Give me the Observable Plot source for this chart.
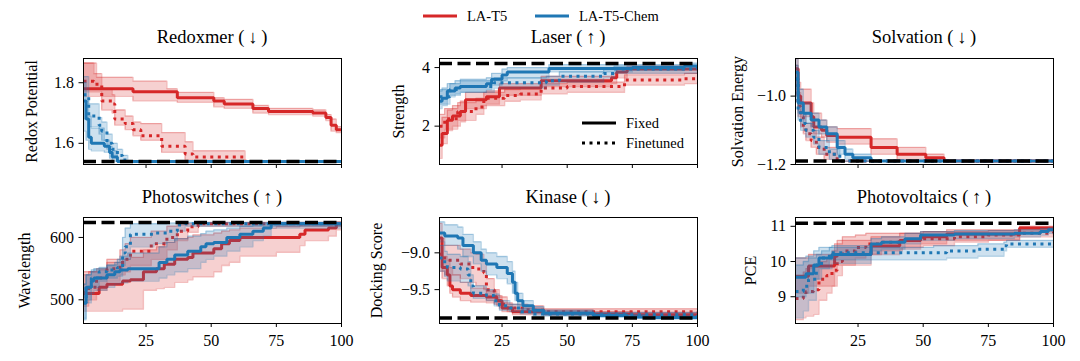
<!DOCTYPE html>
<html><head><meta charset="utf-8">
<script src="https://cdn.jsdelivr.net/npm/d3@7"></script>
<script src="https://cdn.jsdelivr.net/npm/@observablehq/plot@0.6"></script>
<style>
body{margin:0;background:#fff;}
#fig{position:relative;width:1080px;height:361px;overflow:hidden;background:#fff;font-family:"Liberation Serif","Times New Roman",serif;color:#000;}
.title{position:absolute;font-size:18.5px;line-height:1;transform:translateX(-50%);white-space:nowrap;}
.leg{position:absolute;font-size:14.5px;line-height:1;white-space:nowrap;display:flex;align-items:center;}
.leg svg{margin-right:10px;}
</style></head>
<body><div id="fig"></div>
<script>
// ---- data: rows are [x, mean, lower, upper] (step-after) ----
const models = ["LA-T5", "LA-T5-Chem"];
const colors = ["#d62728", "#1f77b4"];
const xTicks = [25, 50, 75, 100];

// Redoxmer
const redoxT5Fixed = [[1,1.78,1.755,1.865],[6,1.78,1.755,1.818],[20,1.77,1.74,1.805],[33,1.77,1.74,1.78],[37,1.75,1.735,1.768],[51,1.74,1.72,1.75],[55,1.73,1.715,1.745],[66,1.715,1.70,1.725],[72,1.705,1.695,1.715],[89,1.70,1.69,1.71],[94,1.685,1.675,1.695],[96,1.66,1.64,1.68],[98,1.645,1.635,1.655],[100,1.645,1.635,1.655]];
const redoxT5Fine = [[1,1.805,1.77,1.865],[5,1.795,1.77,1.83],[8,1.74,1.71,1.78],[12,1.73,1.70,1.76],[13,1.68,1.66,1.71],[17,1.665,1.645,1.69],[20,1.645,1.625,1.67],[23,1.625,1.61,1.665],[31,1.59,1.57,1.635],[40,1.565,1.545,1.605],[43,1.555,1.54,1.575],[63,1.54,1.54,1.54],[100,1.54,1.54,1.54]];
const redoxChemFixed = [[1,1.74,1.64,1.80],[2,1.68,1.61,1.74],[3,1.62,1.58,1.69],[4,1.60,1.575,1.65],[9,1.59,1.57,1.61],[11,1.57,1.55,1.59],[12,1.555,1.54,1.575],[14,1.54,1.54,1.54],[100,1.54,1.54,1.54]];
const redoxChemFine = [[1,1.76,1.68,1.82],[3,1.69,1.655,1.73],[7,1.66,1.63,1.685],[8,1.64,1.61,1.67],[10,1.60,1.58,1.63],[12,1.58,1.56,1.60],[14,1.56,1.545,1.58],[16,1.545,1.54,1.56],[18,1.54,1.54,1.54],[100,1.54,1.54,1.54]];

// Laser
const laserT5Fixed = [[1,1.35,0.9,2.0],[2,1.75,1.4,2.3],[4,2.2,1.85,2.55],[6,2.35,2.0,2.7],[9,2.5,2.15,2.85],[11,2.9,2.6,3.15],[19,3.0,2.75,3.2],[24,3.3,3.05,3.45],[40,3.55,3.35,3.7],[67,3.65,3.45,3.8],[69,3.85,3.65,3.95],[73,3.95,3.8,4.05],[100,3.97,3.85,4.05]];
const laserT5Fine = [[1,2.0,1.6,2.4],[3,2.25,1.9,2.6],[8,2.5,2.2,2.8],[15,2.65,2.4,2.95],[18,2.95,2.7,3.15],[26,3.05,2.85,3.25],[32,3.1,2.9,3.3],[40,3.3,3.1,3.45],[50,3.35,3.15,3.5],[72,3.58,3.4,3.75],[95,3.62,3.45,3.8],[100,3.67,3.5,3.85]];
const laserChemFixed = [[1,2.85,2.6,3.2],[2,2.95,2.7,3.3],[4,3.2,3.0,3.45],[7,3.3,3.1,3.55],[9,3.35,3.15,3.6],[19,3.45,3.25,3.65],[21,3.6,3.4,3.8],[25,3.75,3.55,3.95],[27,3.85,3.65,4.0],[43,3.97,3.85,4.1],[75,4.0,3.9,4.1],[95,4.05,3.95,4.15],[100,4.08,3.98,4.15]];
const laserChemFine = [[1,3.0,2.75,3.25],[5,3.25,3.05,3.45],[9,3.35,3.15,3.55],[22,3.48,3.3,3.65],[42,3.55,3.4,3.7],[47,3.7,3.5,3.85],[64,3.8,3.65,3.95],[68,3.95,3.8,4.05],[100,4.02,3.9,4.1]];

// Solvation
const solvT5Fixed = [[1,-0.92,-0.97,-0.89],[2,-1.0,-1.04,-0.96],[3,-1.02,-1.06,-0.98],[7,-1.06,-1.09,-1.02],[8,-1.09,-1.11,-1.05],[11,-1.10,-1.12,-1.07],[13,-1.115,-1.135,-1.09],[17,-1.12,-1.14,-1.095],[30,-1.15,-1.17,-1.125],[40,-1.17,-1.185,-1.15],[51,-1.18,-1.19,-1.17],[58,-1.19,-1.19,-1.19],[100,-1.19,-1.19,-1.19]];
const solvT5Fine = [[1,-0.95,-1.0,-0.91],[2,-1.03,-1.06,-0.99],[3,-1.06,-1.09,-1.02],[4,-1.09,-1.11,-1.05],[5,-1.11,-1.13,-1.08],[7,-1.13,-1.15,-1.10],[9,-1.15,-1.17,-1.12],[12,-1.17,-1.185,-1.15],[17,-1.19,-1.19,-1.19],[100,-1.19,-1.19,-1.19]];
const solvChemFixed = [[1,-0.93,-0.98,-0.89],[2,-1.02,-1.05,-0.98],[4,-1.05,-1.08,-1.02],[7,-1.07,-1.09,-1.05],[10,-1.09,-1.11,-1.07],[13,-1.11,-1.13,-1.09],[17,-1.15,-1.17,-1.13],[20,-1.17,-1.185,-1.155],[23,-1.18,-1.19,-1.17],[30,-1.19,-1.19,-1.19],[100,-1.19,-1.19,-1.19]];
const solvChemFine = [[1,-0.95,-1.0,-0.91],[2,-1.04,-1.07,-1.01],[3,-1.08,-1.10,-1.05],[5,-1.10,-1.12,-1.08],[8,-1.12,-1.14,-1.10],[10,-1.15,-1.17,-1.13],[14,-1.17,-1.185,-1.155],[18,-1.19,-1.19,-1.19],[100,-1.19,-1.19,-1.19]];

// Photoswitches
const photoT5Fixed = [[1,510,482,545],[7,520,482,548],[10,525,482,560],[16,530,485,565],[19,532,485,568],[24,545,515,580],[29,550,518,585],[32,557,520,592],[36,565,528,598],[41,568,532,600],[43,575,537,604],[51,582,545,607],[54,590,555,610],[57,595,560,612],[61,600,570,615],[75,600,576,617],[84,605,587,620],[86,612,595,622],[95,615,602,624],[98,622,612,625],[100,622,612,625]];
const photoT5Fine = [[1,512,490,540],[3,520,500,545],[6,535,515,550],[10,550,530,565],[15,560,540,580],[17,565,545,590],[19,578,555,600],[27,590,565,610],[33,600,580,618],[37,610,595,620],[41,617,608,622],[45,622,618,624],[100,622,620,624]];
const photoChemFixed = [[1,495,470,525],[2,520,495,540],[4,530,510,545],[5,535,515,550],[10,540,520,555],[13,545,525,560],[15,548,527,570],[18,550,530,575],[30,560,535,585],[33,565,540,592],[36,572,545,598],[41,578,550,602],[46,585,560,606],[48,590,565,610],[51,592,570,612],[56,600,578,615],[61,605,585,618],[66,610,595,620],[70,615,603,622],[73,622,615,624],[100,622,620,624]];
const photoChemFine = [[1,495,468,525],[2,520,500,540],[4,535,520,548],[7,545,530,552],[10,548,535,556],[14,552,538,565],[16,575,555,600],[17,585,565,615],[19,605,585,622],[28,607,590,622],[33,610,595,623],[37,620,610,624],[40,622,618,624],[100,622,620,624]];

// Kinase
const kinT5Fixed = [[1,-8.8,-9.0,-8.6],[2,-9.2,-9.35,-9.05],[4,-9.3,-9.45,-9.1],[5,-9.45,-9.55,-9.2],[6,-9.5,-9.6,-9.3],[9,-9.55,-9.65,-9.4],[13,-9.58,-9.67,-9.48],[19,-9.6,-9.68,-9.52],[23,-9.65,-9.72,-9.58],[25,-9.75,-9.8,-9.68],[29,-9.8,-9.84,-9.75],[41,-9.82,-9.85,-9.78],[60,-9.83,-9.86,-9.8],[75,-9.84,-9.87,-9.81],[100,-9.85,-9.88,-9.82]];
const kinT5Fine = [[1,-9.02,-9.25,-8.8],[3,-9.1,-9.3,-8.9],[9,-9.15,-9.35,-8.95],[13,-9.2,-9.4,-9.0],[15,-9.22,-9.45,-9.02],[18,-9.27,-9.5,-9.1],[19,-9.5,-9.65,-9.35],[22,-9.6,-9.7,-9.5],[24,-9.7,-9.76,-9.6],[27,-9.75,-9.8,-9.7],[35,-9.78,-9.82,-9.72],[41,-9.8,-9.83,-9.76],[100,-9.81,-9.84,-9.77]];
const kinChemFixed = [[1,-8.73,-8.85,-8.58],[3,-8.77,-8.9,-8.62],[8,-8.8,-8.95,-8.65],[10,-8.9,-9.05,-8.75],[14,-9.0,-9.15,-8.85],[17,-9.1,-9.25,-8.95],[19,-9.15,-9.3,-9.0],[23,-9.2,-9.35,-9.05],[27,-9.28,-9.42,-9.12],[29,-9.4,-9.55,-9.25],[30,-9.55,-9.65,-9.4],[31,-9.65,-9.72,-9.55],[33,-9.72,-9.78,-9.65],[37,-9.78,-9.82,-9.73],[41,-9.82,-9.85,-9.78],[60,-9.85,-9.87,-9.82],[73,-9.87,-9.89,-9.84],[80,-9.88,-9.9,-9.86],[100,-9.88,-9.9,-9.86]];
const kinChemFine = [[1,-9.07,-9.25,-8.9],[3,-9.15,-9.32,-8.98],[4,-9.2,-9.38,-9.02],[9,-9.22,-9.4,-9.05],[12,-9.3,-9.45,-9.12],[13,-9.45,-9.55,-9.3],[14,-9.55,-9.62,-9.45],[19,-9.58,-9.65,-9.5],[22,-9.65,-9.72,-9.56],[24,-9.72,-9.78,-9.65],[28,-9.75,-9.8,-9.7],[32,-9.8,-9.83,-9.76],[37,-9.83,-9.86,-9.8],[60,-9.84,-9.87,-9.81],[100,-9.88,-9.9,-9.86]];

// Photovoltaics
const pvT5Fixed = [[1,9.58,9.1,10.1],[6,9.87,9.3,10.2],[16,10.15,9.7,10.5],[17,10.2,9.9,10.6],[30,10.44,10.2,10.7],[41,10.6,10.35,10.8],[49,10.7,10.5,10.85],[59,10.78,10.6,10.9],[87,10.95,10.85,11.0],[100,10.97,10.9,11.02]];
const pvT5Fine = [[1,8.95,8.35,9.6],[4,9.05,8.4,9.7],[5,9.15,8.45,9.8],[8,9.2,8.5,9.85],[10,9.5,8.9,10.0],[13,9.6,9.1,10.1],[15,9.75,9.3,10.3],[17,10.0,9.6,10.5],[19,10.3,9.9,10.7],[24,10.4,10.1,10.75],[28,10.5,10.2,10.8],[34,10.55,10.3,10.8],[42,10.6,10.4,10.8],[50,10.65,10.45,10.85],[62,10.7,10.55,10.85],[75,10.75,10.6,10.88],[87,10.8,10.7,10.9],[100,10.85,10.75,10.92]];
const pvChemFixed = [[1,9.55,9.0,10.1],[5,9.65,9.1,10.15],[8,9.9,9.5,10.3],[10,10.1,9.8,10.4],[15,10.2,9.95,10.45],[30,10.5,10.3,10.65],[34,10.55,10.35,10.7],[43,10.65,10.5,10.8],[49,10.75,10.6,10.85],[62,10.78,10.65,10.88],[85,10.8,10.7,10.9],[95,10.85,10.75,10.93],[98,10.9,10.8,10.95],[100,10.92,10.82,10.97]];
const pvChemFine = [[1,9.15,8.4,9.9],[4,9.3,8.6,10.0],[6,9.5,8.9,10.1],[9,9.9,9.5,10.2],[11,10.1,9.8,10.3],[14,10.25,10.05,10.4],[54,10.25,10.05,10.45],[59,10.3,10.1,10.45],[71,10.35,10.15,10.5],[81,10.45,10.3,10.55],[82,10.5,10.4,10.6],[100,10.52,10.42,10.6]];

// panel descriptors
const titles = ["Redoxmer (\u2009\u2193\u2009)", "Laser (\u2009\u2191\u2009)", "Solvation (\u2009\u2193\u2009)", "Photoswitches (\u2009\u2191\u2009)", "Kinase (\u2009\u2193\u2009)", "Photovoltaics (\u2009\u2191\u2009)"];
const yLabels = ["Redox Potential", "Strength", "Solvation Energy", "Wavelength", "Docking Score", "PCE"];
const yDomains = [[1.53, 1.88], [0.69, 4.31], [-1.2, -0.89], [462, 632], [-9.96, -8.52], [8.24, 11.25]];
const yTicks = [[1.6, 1.8], [2, 4], [-1.2, -1.0], [500, 600], [-9.5, -9.0], [9, 10, 11]];
const yTickDigits = [1, 0, 1, 0, 1, 0];
const optima = [1.54, 4.14, -1.19, 624, -9.885, 11.09];
const seriesSets = [
  [redoxT5Fixed, redoxT5Fine, redoxChemFixed, redoxChemFine],
  [laserT5Fixed, laserT5Fine, laserChemFixed, laserChemFine],
  [solvT5Fixed, solvT5Fine, solvChemFixed, solvChemFine],
  [photoT5Fixed, photoT5Fine, photoChemFixed, photoChemFine],
  [kinT5Fixed, kinT5Fine, kinChemFixed, kinChemFine],
  [pvT5Fixed, pvT5Fine, pvChemFixed, pvChemFine]
];
const seriesModel = [0, 0, 1, 1];
const seriesFine = [false, true, false, true];

// ---- layout ----
const fig = document.getElementById("fig");
const colOff = [0, 360, 720];
const frameL = [83, 439, 795];
const frameR = [341, 697, 1053];
const frameT = [58, 217];
const frameH = 106;
const labelOffsets = [58, 47, 64, 65, 69, 51];

for (let i = 0; i < 6; i++) {
  const col = i % 3, row = Math.floor(i / 3);
  const mTop = 8, mBot = 34;
  const marks = [];
  seriesSets[i].forEach((arr, s) => {
    const rows = arr.map(([x, y, lo, hi]) => ({x, y, lo, hi}));
    const c = colors[seriesModel[s]];
    marks.push(Plot.areaY(rows, {x: "x", y1: "lo", y2: "hi", fill: c, fillOpacity: 0.22, curve: "step-after"}));
    marks.push(Plot.line(rows, {x: "x", y: "lo", stroke: c, strokeOpacity: 0.3, strokeWidth: 1.3, curve: "step-after"}));
    marks.push(Plot.line(rows, {x: "x", y: "hi", stroke: c, strokeOpacity: 0.3, strokeWidth: 1.3, curve: "step-after"}));
    marks.push(Plot.line(rows, {x: "x", y: "y", stroke: c, strokeWidth: 3, curve: "step-after",
      strokeDasharray: seriesFine[s] ? "3,4.5" : null, strokeLinecap: "butt", strokeLinejoin: "miter"}));
  });
  marks.push(Plot.ruleY([optima[i]], {stroke: "black", strokeWidth: 3.5, strokeDasharray: "13,5.5"}));
  marks.push(Plot.frame({stroke: "black", strokeWidth: 1}));
  const fmt = d3.format("." + yTickDigits[i] + "f");
  marks.push(Plot.axisY({ticks: yTicks[i], tickSize: 4.5, tickPadding: 5, tickFormat: fmt,
    label: yLabels[i], labelAnchor: "center", labelArrow: "none", labelOffset: labelOffsets[i]}));
  marks.push(Plot.axisX({ticks: xTicks, tickSize: 4, tickPadding: 7,
    tickFormat: row === 0 ? () => "" : d => String(d), label: null}));
  const svg = Plot.plot({
    width: 360,
    height: mTop + frameH + mBot,
    marginLeft: frameL[col] - colOff[col],
    marginRight: colOff[col] + 360 - frameR[col],
    marginTop: mTop,
    marginBottom: mBot,
    x: {domain: [1, 100]},
    y: {domain: yDomains[i]},
    clip: true,
    style: {fontFamily: "'Liberation Serif', 'Times New Roman', serif", fontSize: "16px", color: "black", background: "transparent", overflow: "visible"},
    marks
  });
  svg.style.position = "absolute";
  svg.style.left = colOff[col] + "px";
  svg.style.top = (frameT[row] - mTop) + "px";
  fig.appendChild(svg);

  const t = document.createElement("div");
  t.className = "title";
  t.textContent = titles[i];
  t.style.left = ((frameL[col] + frameR[col]) / 2) + "px";
  t.style.top = (row === 0 ? 28 : 188) + "px";
  fig.appendChild(t);
}

// top legend
function swatch(color, dash) {
  return `<svg width="34" height="6"><line x1="0" y1="3" x2="34" y2="3" stroke="${color}" stroke-width="3"${dash ? ` stroke-dasharray="${dash}"` : ""}/></svg>`;
}
const legendX = [423, 535];
models.forEach((m, k) => {
  const d = document.createElement("div");
  d.className = "leg";
  d.style.left = legendX[k] + "px";
  d.style.top = "9px";
  d.innerHTML = swatch(colors[k]) + `<span>${m}</span>`;
  fig.appendChild(d);
});
// style legend inside Laser panel
const styleNames = ["Fixed", "Finetuned"];
const styleDash = [null, "3,4.5"];
styleNames.forEach((n, k) => {
  const d = document.createElement("div");
  d.className = "leg";
  d.style.left = "582px";
  d.style.top = (116 + k * 20) + "px";
  d.innerHTML = swatch("black", styleDash[k]) + `<span>${n}</span>`;
  fig.appendChild(d);
});
</script>
</body></html>
